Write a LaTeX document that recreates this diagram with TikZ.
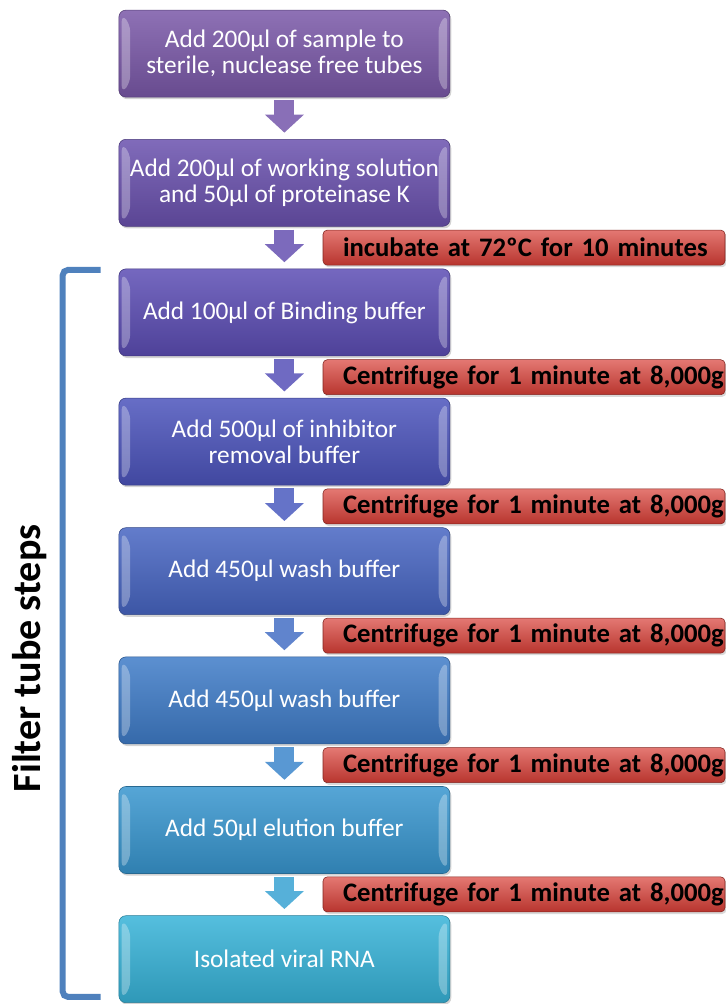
\documentclass[tikz,border=0pt]{standalone}
\usepackage{fontspec}
\setmainfont{Carlito}
\usetikzlibrary{arrows.meta,shadows}
\definecolor{tone1}{HTML}{7A58A8}
\definecolor{tone2}{HTML}{6A51AE}
\definecolor{tone3}{HTML}{5C4DB4}
\definecolor{tone4}{HTML}{4C54BC}
\definecolor{tone5}{HTML}{4765C2}
\definecolor{tone6}{HTML}{3F7CC8}
\definecolor{tone7}{HTML}{3896CF}
\definecolor{tone8}{HTML}{37B3D8}
\definecolor{alert}{HTML}{D83E36}
\definecolor{brace}{HTML}{4F81BD}

\begin{document}
\begin{tikzpicture}[
    stepbox/.style={rounded corners=5pt, minimum width=8.275cm, minimum height=2.175cm, inner sep=0pt, align=center, text=white,
        font=\fontsize{18}{18.5}\selectfont, top color=#1!85!white, bottom color=#1!85!black, draw=#1!70!black,
        drop shadow={opacity=0.35, shadow xshift=1pt, shadow yshift=-1.5pt},
        path picture={
            \fill[white, opacity=0.3] ([shift={(2pt,-3pt)}]path picture bounding box.north west) -- ([shift={(8pt,-10pt)}]path picture bounding box.north west)
                -- ([shift={(8pt,10pt)}]path picture bounding box.south west) -- ([shift={(2pt,3pt)}]path picture bounding box.south west) -- cycle;
            \fill[white, opacity=0.3] ([shift={(-2pt,-3pt)}]path picture bounding box.north east) -- ([shift={(-8pt,-10pt)}]path picture bounding box.north east)
                -- ([shift={(-8pt,10pt)}]path picture bounding box.south east) -- ([shift={(-2pt,3pt)}]path picture bounding box.south east) -- cycle;
        }},
    note/.style={rounded corners=3pt, text width=10.05cm, minimum height=0.875cm, inner sep=0pt, align=left,
        font=\fontsize{19}{21}\selectfont\bfseries, top color=alert!70!white, bottom color=alert!85!black, draw=alert!60!black,
        drop shadow={opacity=0.3, shadow xshift=1pt, shadow yshift=-1.5pt},
        execute at begin node={\hspace*{0.5cm}\hbox\bgroup}, execute at end node=\egroup},
    flow/.style={draw=#1, line width=0.5cm, -{Triangle[width=0.95cm,length=0.45cm]}, shorten <=0.075cm, shorten >=0.16cm},
    bracket/.style={draw=brace, line width=0.15cm, rounded corners=4pt}
]
\useasboundingbox (0,0) rectangle (18.15,-25.1);

\node[stepbox=tone1] (sample) at (7.11,-1.34) {Add 200µl of sample to\\sterile, nuclease free tubes};
\node[stepbox=tone2] (work) at (7.11,-4.57) {Add 200µl of working solution\\and 50µl of proteinase K};
\node[stepbox=tone3] (bind) at (7.11,-7.81) {Add 100µl of Binding buffer};
\node[stepbox=tone4] (inhib) at (7.11,-11.04) {Add 500µl of inhibitor\\removal buffer};
\node[stepbox=tone5] (washa) at (7.11,-14.28) {Add 450µl wash buffer};
\node[stepbox=tone6] (washb) at (7.11,-17.51) {Add 450µl wash buffer};
\node[stepbox=tone7] (elute) at (7.11,-20.75) {Add 50µl elution buffer};
\node[stepbox=tone8] (rna) at (7.11,-23.98) {Isolated viral RNA};

\node[note] (incub) at (13.1,-6.19) {incubate at 72ºC for 10 minutes};
\node[note] (spina) at (13.1,-9.43) {Centrifuge for 1 minute at 8,000g};
\node[note] (spinb) at (13.1,-12.66) {Centrifuge for 1 minute at 8,000g};
\node[note] (spinc) at (13.1,-15.89) {Centrifuge for 1 minute at 8,000g};
\node[note] (spind) at (13.1,-19.13) {Centrifuge for 1 minute at 8,000g};
\node[note] (spine) at (13.1,-22.36) {Centrifuge for 1 minute at 8,000g};

\draw[flow=tone1!60!tone2!85!white] (sample) -- (work);
\draw[flow=tone2!60!tone3!85!white] (work) -- (bind);
\draw[flow=tone3!60!tone4!85!white] (bind) -- (inhib);
\draw[flow=tone4!60!tone5!85!white] (inhib) -- (washa);
\draw[flow=tone5!60!tone6!85!white] (washa) -- (washb);
\draw[flow=tone6!60!tone7!85!white] (washb) -- (elute);
\draw[flow=tone7!60!tone8!85!white] (elute) -- (rna);

\draw[bracket] ([xshift=-0.45cm,yshift=-0.03cm]bind.north west) -- ++(-0.95,0) |- ([xshift=-0.45cm,yshift=0.15cm]rna.south west);
\node[rotate=90, anchor=base, font=\fontsize{28.5}{30}\selectfont\bfseries] (filt) at (1.0,-16.46) {Filter tube steps};
\end{tikzpicture}
\end{document}
